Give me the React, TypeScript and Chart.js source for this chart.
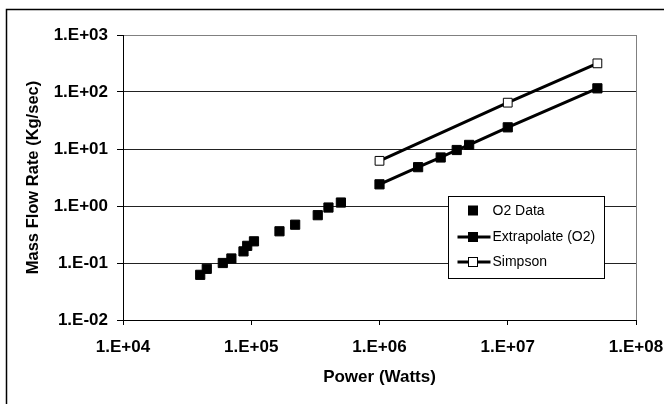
import React, { useEffect, useRef } from 'react';
import { Chart, registerables } from 'chart.js';

Chart.register(...registerables);

// ---- data ----
const seriesNames = ['O2 Data', 'Extrapolate (O2)', 'Simpson'];
const o2Power = [4.0e4, 4.5e4, 6.0e4, 7.0e4, 8.7e4, 9.3e4, 1.05e5, 1.66e5, 2.2e5, 3.3e5, 4.0e5, 5.0e5];
const o2Flow = [0.062, 0.079, 0.1, 0.12, 0.16, 0.2, 0.24, 0.36, 0.47, 0.69, 0.94, 1.15];
const extrapPower = [1e6, 2e6, 3e6, 4e6, 5e6, 1e7, 5e7];
const extrapFlow = [2.4, 4.8, 7.1, 9.6, 11.8, 24, 116];
const simpsonPower = [1e6, 1e7, 5e7];
const simpsonFlow = [6.2, 65, 318];
const xTicks = [1e4, 1e5, 1e6, 1e7, 1e8];
const xTickLabels = ['1.E+04', '1.E+05', '1.E+06', '1.E+07', '1.E+08'];
const yTicks = [1e-2, 1e-1, 1, 10, 100, 1000];
const yTickLabels = ['1.E-02', '1.E-01', '1.E+00', '1.E+01', '1.E+02', '1.E+03'];
const xTitle = 'Power (Watts)';
const yTitle = 'Mass Flow Rate (Kg/sec)';

const FONT = '"Liberation Sans", Arial, Helvetica, sans-serif';

const pts = (xs: number[], ys: number[]) => xs.map((x, i) => ({ x, y: ys[i] }));

const framePlugin = {
  id: 'frame',
  beforeDraw(chart: any) {
    const ctx = chart.ctx;
    ctx.save();
    ctx.strokeStyle = '#000';
    ctx.lineWidth = 1.5;
    ctx.beginPath();
    ctx.moveTo(6.5, chart.height);
    ctx.lineTo(6.5, 9.5);
    ctx.lineTo(chart.width, 9.5);
    ctx.stroke();
    ctx.restore();
  },
  beforeDatasetsDraw(chart: any) {
    const ctx = chart.ctx;
    const { top, bottom, right } = chart.chartArea;
    ctx.save();
    ctx.strokeStyle = '#808080';
    ctx.lineWidth = 1;
    ctx.beginPath();
    ctx.moveTo(Math.round(right) + 0.5, top);
    ctx.lineTo(Math.round(right) + 0.5, bottom);
    ctx.stroke();
    ctx.restore();
  },
};

const legendPlugin = {
  id: 'boxLegend',
  afterDraw(chart: any) {
    const ctx = chart.ctx;
    const { left, top } = chart.chartArea;
    const bx = Math.round(left + 325) + 0.5;
    const by = Math.round(top + 161) + 0.5;
    const bw = 156;
    const bh = 82;
    ctx.save();
    ctx.fillStyle = '#fff';
    ctx.fillRect(bx, by, bw, bh);
    ctx.strokeStyle = '#000';
    ctx.lineWidth = 1;
    ctx.strokeRect(bx, by, bw, bh);
    const rowYs = [by + 14, by + 40.5, by + 65.5];
    const markerX = bx + 24.5;
    chart.data.datasets.forEach((ds: any, i: number) => {
      const y = rowYs[i];
      if (ds.showLine) {
        ctx.strokeStyle = ds.borderColor;
        ctx.lineWidth = 3;
        ctx.beginPath();
        ctx.moveTo(bx + 9, y);
        ctx.lineTo(bx + 42, y);
        ctx.stroke();
      }
      const s = 9;
      ctx.fillStyle = ds.pointBackgroundColor;
      ctx.fillRect(markerX - s / 2, y - s / 2, s, s);
      ctx.strokeStyle = ds.pointBorderColor;
      ctx.lineWidth = 1;
      ctx.strokeRect(markerX - s / 2, y - s / 2, s, s);
      ctx.fillStyle = '#000';
      ctx.font = `14px ${FONT}`;
      ctx.textBaseline = 'middle';
      ctx.textAlign = 'left';
      ctx.fillText(ds.label, bx + 44, y + 0.5);
    });
    ctx.restore();
  },
};

export default function App() {
  const ref = useRef<HTMLCanvasElement>(null);
  useEffect(() => {
    if (!ref.current) return;
    const chart = new Chart(ref.current, {
      type: 'scatter',
      data: {
        datasets: [
          {
            label: seriesNames[0],
            data: pts(o2Power, o2Flow),
            showLine: false,
            pointStyle: 'rect',
            pointRadius: 6.5,
            pointBackgroundColor: '#000',
            pointBorderColor: '#000',
            pointBorderWidth: 1,
            borderColor: '#000',
            backgroundColor: '#000',
          },
          {
            label: seriesNames[1],
            data: pts(extrapPower, extrapFlow),
            showLine: true,
            borderColor: '#000',
            borderWidth: 3,
            tension: 0,
            pointStyle: 'rect',
            pointRadius: 6.5,
            pointBackgroundColor: '#000',
            pointBorderColor: '#000',
            pointBorderWidth: 1,
            backgroundColor: '#000',
          },
          {
            label: seriesNames[2],
            data: pts(simpsonPower, simpsonFlow),
            showLine: true,
            borderColor: '#000',
            borderWidth: 3,
            tension: 0,
            pointStyle: 'rect',
            pointRadius: 6.2,
            pointBackgroundColor: '#fff',
            pointBorderColor: '#000',
            pointBorderWidth: 1,
            backgroundColor: '#fff',
          },
        ],
      },
      options: {
        responsive: false,
        animation: false,
        layout: { padding: { top: 35, right: 28, left: 0, bottom: 0 } },
        plugins: {
          legend: { display: false },
          tooltip: { enabled: false },
        },
        scales: {
          x: {
            type: 'logarithmic',
            min: 1e4,
            max: 1e8,
            afterBuildTicks: (scale: any) => {
              scale.ticks = xTicks.map((v) => ({ value: v }));
            },
            afterFit: (scale: any) => {
              scale.height = 84;
              scale.paddingLeft = 0;
              scale.paddingRight = 0;
            },
            grid: {
              drawOnChartArea: false,
              drawTicks: true,
              tickLength: 5,
              tickColor: '#000',
              color: '#000',
            },
            border: { display: true, color: '#000', width: 1 },
            ticks: {
              autoSkip: false,
              maxRotation: 0,
              padding: 12,
              color: '#000',
              font: { family: FONT, size: 17, weight: 'bold' },
              callback: (_v: any, i: number) => xTickLabels[i],
            },
            title: {
              display: true,
              text: xTitle,
              color: '#000',
              font: { family: FONT, size: 17, weight: 'bold' },
              padding: { top: 0, bottom: 16 },
            },
          },
          y: {
            type: 'logarithmic',
            min: 1e-2,
            max: 1e3,
            afterBuildTicks: (scale: any) => {
              scale.ticks = yTicks.map((v) => ({ value: v }));
            },
            afterFit: (scale: any) => {
              scale.width = 123;
              scale.paddingTop = 0;
              scale.paddingBottom = 0;
            },
            grid: {
              drawOnChartArea: true,
              drawTicks: true,
              tickLength: 6,
              tickColor: '#000',
              color: (c: any) => (c.tick && c.tick.value === 1000 ? '#808080' : '#222'),
              lineWidth: 1,
            },
            border: { display: true, color: '#000', width: 1 },
            ticks: {
              autoSkip: false,
              padding: 9,
              color: '#000',
              font: { family: FONT, size: 17, weight: 'bold' },
              callback: (_v: any, i: number) => yTickLabels[i],
            },
            title: {
              display: true,
              text: yTitle,
              color: '#000',
              font: { family: FONT, size: 16.5, weight: 'bold' },
              padding: { top: 24, bottom: 0 },
            },
          },
        },
      } as any,
      plugins: [framePlugin, legendPlugin],
    });
    return () => chart.destroy();
  }, []);
  return (
    <div style={{ position: 'fixed', left: 0, top: 0, width: 664, height: 404 }}>
      <canvas ref={ref} width={664} height={404} style={{ display: 'block' }} />
    </div>
  );
}
